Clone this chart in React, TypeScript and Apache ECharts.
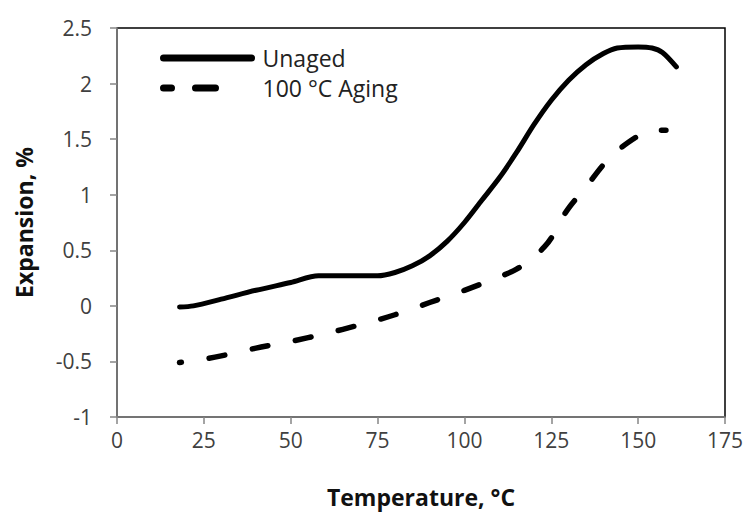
import React, { useEffect, useRef } from "react";
import * as echarts from "echarts";

const unagedTemp = [18, 22, 30, 40, 50, 58, 65, 75, 80, 85, 90, 95, 100, 105, 110, 115, 120, 125, 130, 135, 140, 144, 150, 154, 157, 161];
const unagedExp = [-0.01, 0, 0.06, 0.14, 0.21, 0.27, 0.27, 0.27, 0.3, 0.36, 0.45, 0.58, 0.75, 0.95, 1.15, 1.38, 1.63, 1.85, 2.03, 2.17, 2.27, 2.32, 2.33, 2.32, 2.28, 2.15];

const agedTemp = [18, 25, 30, 40, 50, 60, 70, 80, 90, 100, 110, 115, 120, 123, 125, 127, 130, 135, 140, 145, 150, 153, 158];
const agedExp = [-0.51, -0.48, -0.45, -0.38, -0.32, -0.25, -0.17, -0.08, 0.03, 0.14, 0.26, 0.33, 0.44, 0.53, 0.61, 0.73, 0.88, 1.07, 1.27, 1.42, 1.53, 1.58, 1.58];

const seriesNames = ["Unaged", "100 °C Aging"];
const xTitle = "Temperature, °C";
const yTitle = "Expansion, %";

const FONT = "'Open Sans', sans-serif";

export default function App() {
  const ref = useRef<HTMLDivElement>(null);
  useEffect(() => {
    if (!ref.current) return;
    const chart = echarts.init(ref.current, null, { renderer: "svg" });
    const axisGray = "#868686";
    const labelColor = "#404040";
    chart.setOption({
      animation: false,
      backgroundColor: "#ffffff",
      grid: {
        left: 117,
        right: 28,
        top: 28,
        bottom: 103,
        show: true,
        borderColor: "#000000",
        borderWidth: 1.5,
        backgroundColor: "transparent",
      },
      legend: {
        orient: "vertical",
        left: 155,
        top: 40,
        itemWidth: 88,
        itemHeight: 20,
        itemGap: 4,
        itemStyle: { opacity: 0, color: "transparent", borderWidth: 0 },
        textStyle: { fontFamily: FONT, fontSize: 23, lineHeight: 26, color: "#222", padding: [0, 0, 0, 6] },
        data: [
          { name: seriesNames[0], itemStyle: { opacity: 0 }, lineStyle: { width: 7, cap: "round", color: "#000", type: "solid" } },
          { name: seriesNames[1], itemStyle: { opacity: 0 }, lineStyle: { width: 7, type: [22, 24, 20, 200], cap: "round", color: "#000" } },
        ],
      },
      xAxis: {
        type: "value",
        min: 0,
        max: 175,
        interval: 25,
        name: xTitle,
        nameLocation: "middle",
        nameGap: 68,
        nameTextStyle: { fontFamily: FONT, fontSize: 23, fontWeight: "bold", color: "#111" },
        axisLine: { show: true, onZero: false, lineStyle: { color: axisGray, width: 1.5 } },
        axisTick: { show: true, length: 7, lineStyle: { color: axisGray, width: 1.5 } },
        axisLabel: { fontFamily: FONT, fontSize: 21, color: labelColor, margin: 12 },
        splitLine: { show: false },
      },
      yAxis: {
        type: "value",
        min: -1,
        max: 2.5,
        interval: 0.5,
        name: yTitle,
        nameLocation: "middle",
        nameGap: 82,
        nameRotate: 90,
        nameTextStyle: { fontFamily: FONT, fontSize: 23, fontWeight: "bold", color: "#111" },
        axisLine: { show: true, onZero: false, lineStyle: { color: axisGray, width: 1.5 } },
        axisTick: { show: true, length: 7, lineStyle: { color: axisGray, width: 1.5 } },
        axisLabel: { fontFamily: FONT, fontSize: 21, color: labelColor, margin: 25 },
        splitLine: { show: false },
      },
      series: [
        {
          name: seriesNames[0],
          type: "line",
          data: unagedTemp.map((t, i) => [t, unagedExp[i]]),
          smooth: 0.3,
          showSymbol: false,
          symbol: "none",
          lineStyle: { color: "#000", width: 5, cap: "round", join: "round" },
          itemStyle: { color: "#000" },
        },
        {
          name: seriesNames[1],
          type: "line",
          data: agedTemp.map((t, i) => [t, agedExp[i]]),
          smooth: 0.3,
          showSymbol: false,
          symbol: "none",
          lineStyle: { color: "#000", width: 5.5, type: [16, 28], dashOffset: 14, cap: "round", join: "round" },
          itemStyle: { color: "#000" },
        },
      ],
    });
    return () => chart.dispose();
  }, []);
  return <div ref={ref} style={{ width: 753, height: 520, position: "absolute", left: 0, top: 0 }} />;
}
